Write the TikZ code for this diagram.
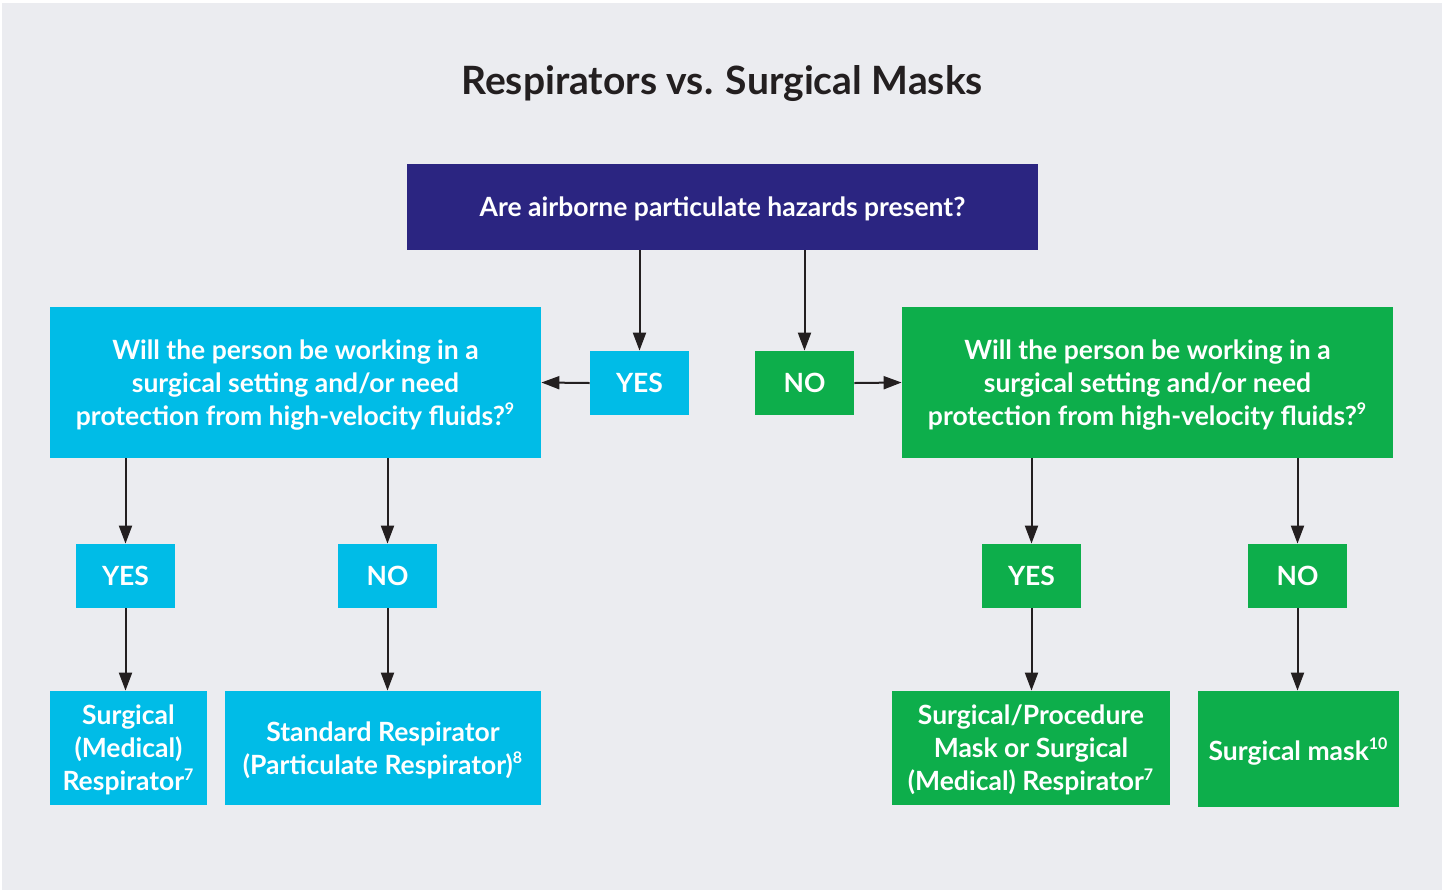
\documentclass[tikz,border=0pt]{standalone}
\usepackage{fontspec}
\setmainfont{Lato}
\usepackage{xcolor}
\usetikzlibrary{positioning}
\usetikzlibrary{arrows.meta}
\definecolor{navybox}{HTML}{2B2581}
\definecolor{cyanbox}{HTML}{00BCE7}
\definecolor{greenbox}{HTML}{0DAE4B}
\definecolor{bggray}{HTML}{EBECF0}
\definecolor{arrowdark}{HTML}{231F20}

\begin{document}
\begin{tikzpicture}[x=0.5pt,y=-0.5pt,
  box/.style={text=white,font=\bfseries\fontsize{13.25}{16.5}\selectfont,align=center,inner sep=0pt,text depth=-2pt},
  answer/.style={box,minimum width=49.5pt,minimum height=32pt},
  arr/.style={draw=arrowdark,line width=1pt,-{Triangle[length=9pt,width=6.5pt]}}]
\useasboundingbox (0,0) rectangle (1442,890);
\fill[white] (0,0) rectangle (1442,890);
\fill[bggray] (2,3) rectangle (1442,890);

\node[font=\bfseries\fontsize{19.5}{22}\selectfont,text=arrowdark,text depth=0pt] (title) at (722,80) {Respirators vs. Surgical Masks};

% question boxes
\node[box,fill=navybox,minimum width=315.5pt,minimum height=43pt] (top) at (722.5,207) {Are airborne particulate hazards present?};
\node[box,fill=cyanbox,minimum width=245.5pt,minimum height=75.5pt] (lq) at (295.5,382.5) {Will the person be working in a\\surgical setting and/or need\\protection from high-velocity fluids?\textsuperscript{\footnotesize 9}};
\node[box,fill=greenbox,minimum width=245.5pt,minimum height=75.5pt] (rq) at (1147.5,382.5) {Will the person be working in a\\surgical setting and/or need\\protection from high-velocity fluids?\textsuperscript{\footnotesize 9}};

% answers
\node[answer,fill=cyanbox] (yes0) at (639.5,383) {YES};
\node[answer,fill=greenbox] (no0) at (804.5,383) {NO};
\node[answer,fill=cyanbox] (lyes) at (125.5,576) {YES};
\node[answer,fill=cyanbox] (lno) at (387.5,576) {NO};
\node[answer,fill=greenbox] (ryes) at (1031.5,576) {YES};
\node[answer,fill=greenbox] (rno) at (1297.5,576) {NO};

% results
\node[box,fill=cyanbox,minimum width=78.5pt,minimum height=57pt] (lres1) at (128.5,748) {Surgical\\(Medical)\\Respirator\textsuperscript{\footnotesize 7}};
\node[box,fill=cyanbox,minimum width=158pt,minimum height=57pt] (lres2) at (383,748) {Standard Respirator\\(Particulate Respirator)\textsuperscript{\footnotesize 8}};
\node[box,fill=greenbox,minimum width=139pt,minimum height=57pt] (rres1) at (1031,748) {Surgical/Procedure\\Mask or Surgical\\(Medical) Respirator\textsuperscript{\footnotesize 7}};
\node[box,fill=greenbox,minimum width=100.5pt,minimum height=58pt] (rres2) at (1298.5,749) {Surgical mask\textsuperscript{\footnotesize 10}};

% connectors
\draw[arr] (yes0.north |- top.south) -- (yes0.north);
\draw[arr] (no0.north |- top.south) -- (no0.north);
\draw[arr] (yes0.west) -- (lq.east);
\draw[arr] (no0.east) -- (rq.west);
\draw[arr] (lyes.north |- lq.south) -- (lyes.north);
\draw[arr] (lno.north |- lq.south) -- (lno.north);
\draw[arr] (ryes.north |- rq.south) -- (ryes.north);
\draw[arr] (rno.north |- rq.south) -- (rno.north);
\draw[arr] (lyes.south) -- (lyes.south |- lres1.north);
\draw[arr] (lno.south) -- (lno.south |- lres2.north);
\draw[arr] (ryes.south) -- (ryes.south |- rres1.north);
\draw[arr] (rno.south) -- (rno.south |- rres2.north);
\end{tikzpicture}
\end{document}
